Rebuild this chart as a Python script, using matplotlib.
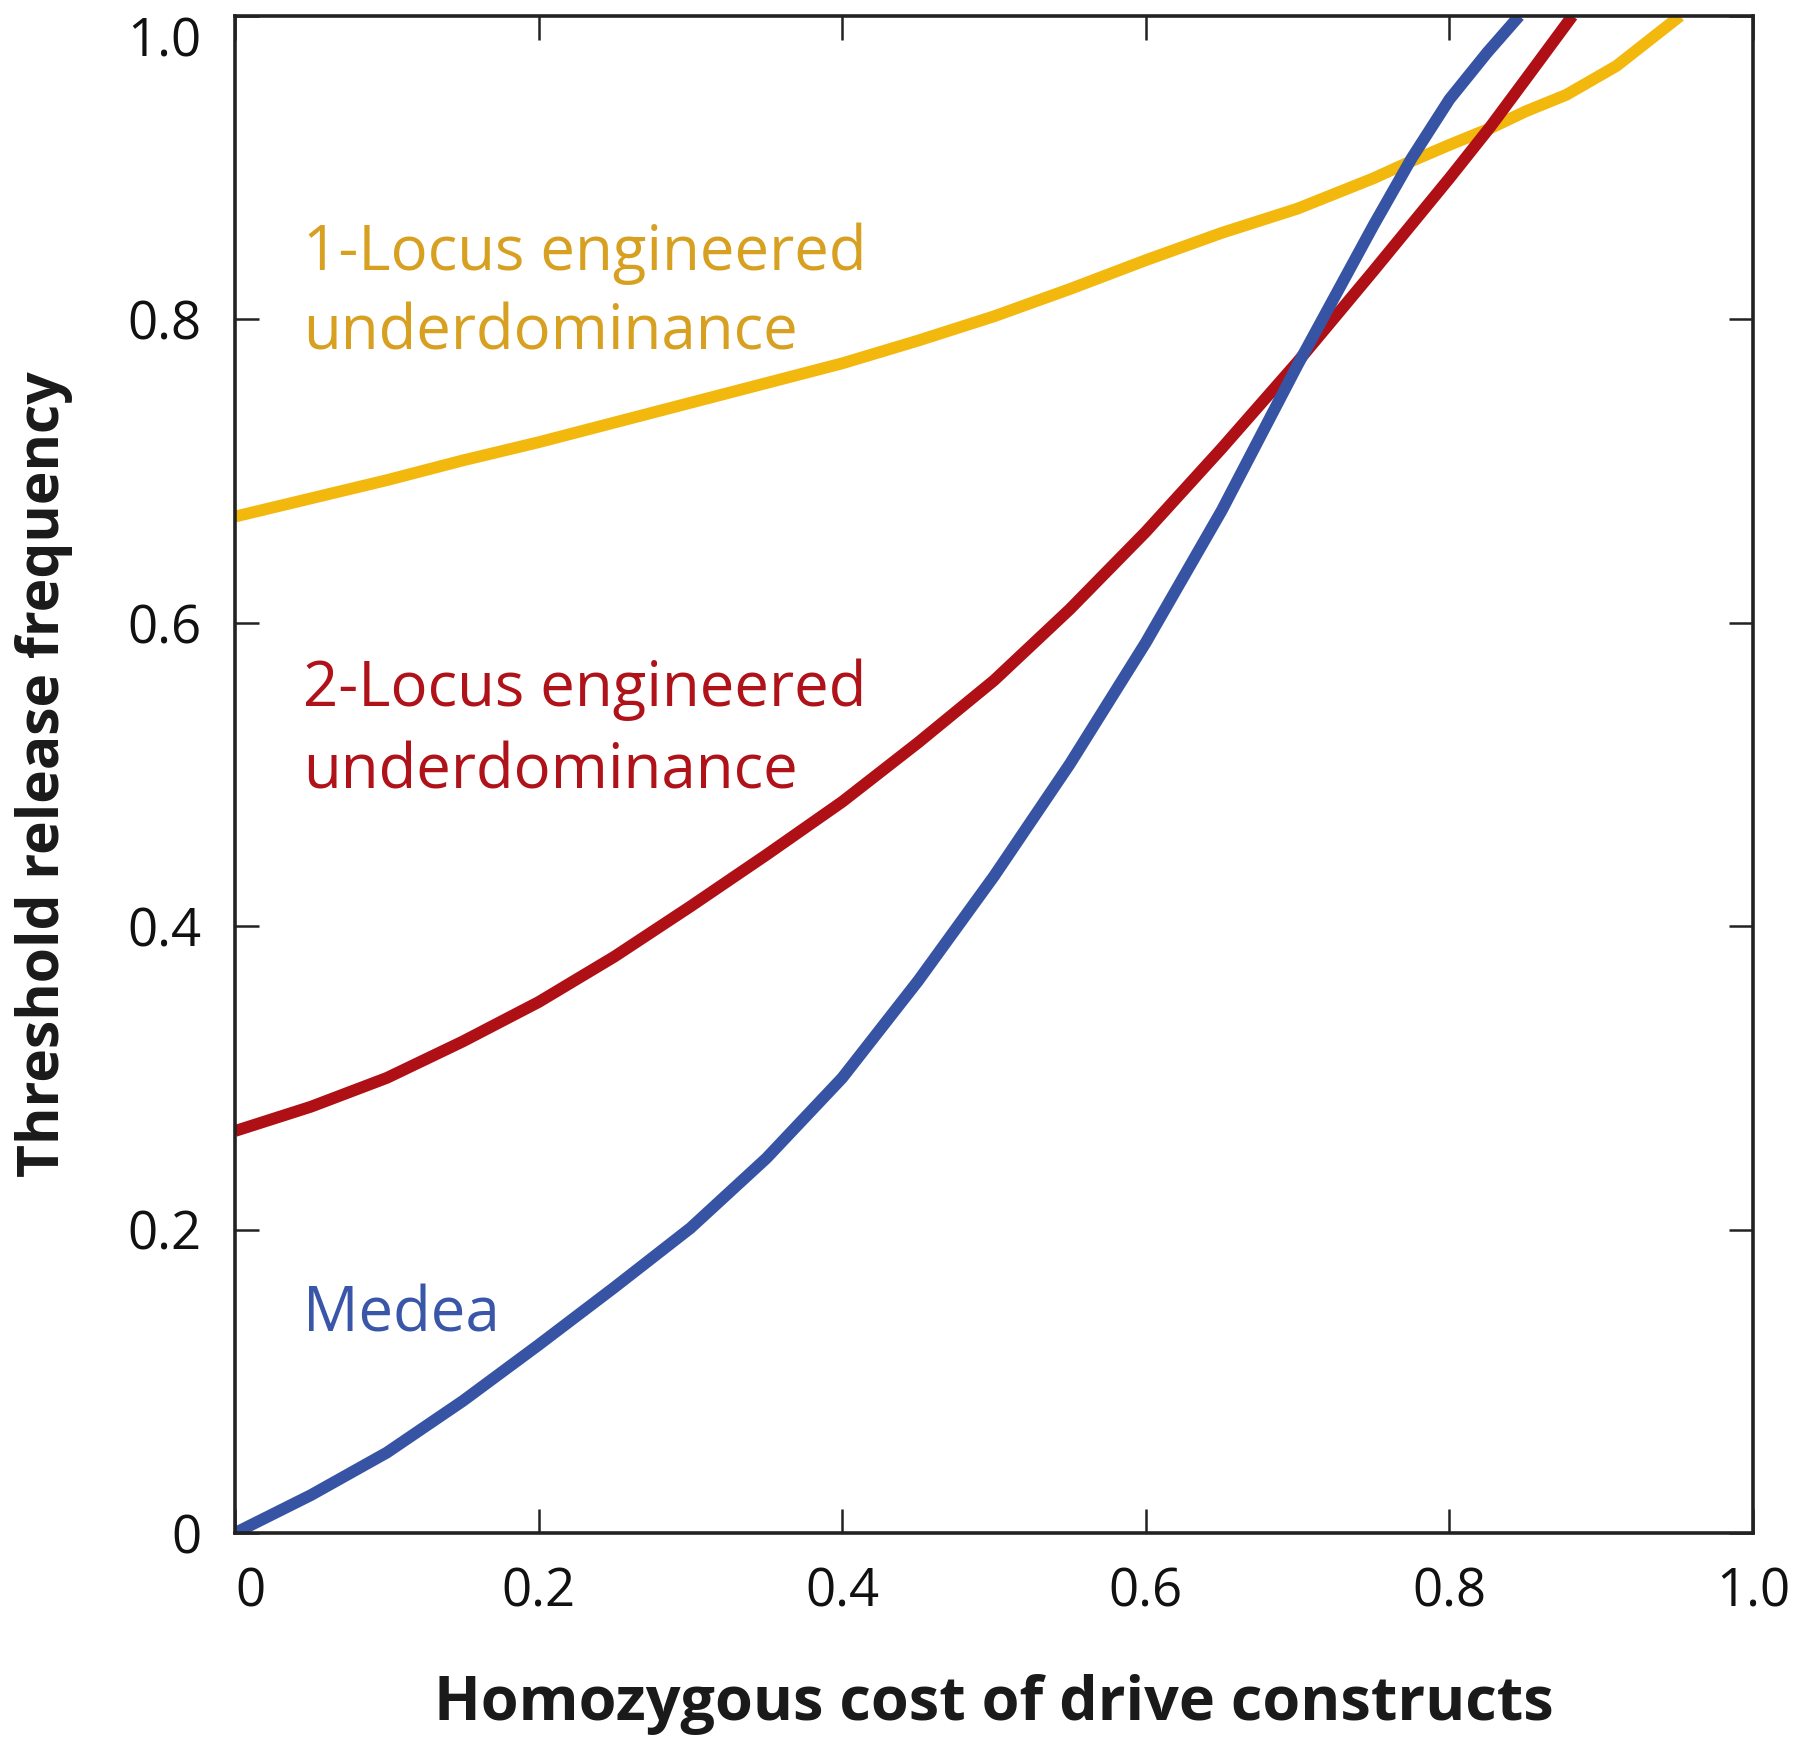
import matplotlib
matplotlib.use('Agg')
import matplotlib.pyplot as plt

plt.rcParams['font.family'] = ['Open Sans', 'DejaVu Sans']

# Homozygous cost of drive constructs vs. threshold release frequency
one_locus_x = [0, 0.05, 0.10, 0.15, 0.20, 0.25, 0.30, 0.35, 0.40, 0.45, 0.50,
               0.55, 0.60, 0.65, 0.70, 0.75, 0.772, 0.80, 0.827, 0.85, 0.877, 0.91, 0.952]
one_locus_y = [0.670, 0.682, 0.694, 0.707, 0.719, 0.732, 0.745, 0.758, 0.771, 0.786, 0.802,
               0.820, 0.839, 0.857, 0.873, 0.893, 0.903, 0.915, 0.926, 0.937, 0.948, 0.967, 1.0]

two_locus_x = [0, 0.05, 0.10, 0.15, 0.20, 0.25, 0.30, 0.35, 0.40, 0.45, 0.50,
               0.55, 0.60, 0.65, 0.70, 0.75, 0.80, 0.827, 0.85, 0.881]
two_locus_y = [0.265, 0.281, 0.300, 0.324, 0.350, 0.380, 0.413, 0.447, 0.482, 0.521, 0.562,
               0.609, 0.660, 0.715, 0.772, 0.832, 0.893, 0.927, 0.958, 1.0]

medea_x = [0, 0.05, 0.10, 0.15, 0.20, 0.25, 0.30, 0.35, 0.40, 0.45, 0.50,
           0.55, 0.60, 0.65, 0.70, 0.75, 0.775, 0.80, 0.825, 0.846]
medea_y = [0.0, 0.025, 0.053, 0.087, 0.124, 0.162, 0.201, 0.247, 0.300, 0.364, 0.433,
           0.507, 0.587, 0.674, 0.770, 0.862, 0.906, 0.945, 0.976, 1.0]

ticks = [0, 0.2, 0.4, 0.6, 0.8, 1.0]
tick_labels = ['0', '0.2', '0.4', '0.6', '0.8', '1.0']

YELLOW, YELLOW_TXT = '#F3B80E', '#D7A021'
RED, RED_TXT = '#AF1016', '#AF1219'
BLUE, BLUE_TXT = '#3753A4', '#3A56A8'

fig = plt.figure(figsize=(18, 17.51), dpi=100)
ax = fig.add_axes([0.1306, 0.1245, 0.8433, 0.8664])

lw = 8.5
for xs, ys, c in [(one_locus_x, one_locus_y, YELLOW),
                  (two_locus_x, two_locus_y, RED),
                  (medea_x, medea_y, BLUE)]:
    ax.plot(xs, ys, color=c, lw=lw, solid_capstyle='butt', solid_joinstyle='round')

ax.set_xlim(0, 1)
ax.set_ylim(0, 1)
ax.set_xticks(ticks)
ax.set_xticklabels(tick_labels)
ax.set_yticks(ticks)
ax.set_yticklabels(tick_labels)
ax.tick_params(direction='in', length=17, width=1.8, top=True, right=True,
               labelsize=38, color='#222222', labelcolor='#111111')
ax.tick_params(axis='x', pad=24)
ax.tick_params(axis='y', pad=24)
for s in ax.spines.values():
    s.set_linewidth(2.6)
    s.set_color('#222222')

# end labels pulled inside the frame like the original
ax.get_yticklabels()[-1].set_va('top')
ax.get_xticklabels()[0].set_ha('left')

ax.set_xlabel('Homozygous cost of drive constructs', fontsize=44, fontweight='bold',
              color='#1a1a1a', va='center')
ax.xaxis.set_label_coords(0.5, -0.113)
ax.set_ylabel('Threshold release frequency', fontsize=41, fontweight='bold',
              color='#1a1a1a', va='center')
ax.yaxis.set_label_coords(-0.126, 0.5)

fs = 44.5
ax.text(0.045, 0.8326, '1-Locus engineered', fontsize=fs, color=YELLOW_TXT, va='baseline')
ax.text(0.045, 0.780, 'underdominance', fontsize=fs, color=YELLOW_TXT, va='baseline')
ax.text(0.045, 0.545, '2-Locus engineered', fontsize=fs, color=RED_TXT, va='baseline')
ax.text(0.045, 0.491, 'underdominance', fontsize=fs, color=RED_TXT, va='baseline')
ax.text(0.045, 0.1325, 'Medea', fontsize=fs, color=BLUE_TXT, va='baseline')

fig.savefig('out.png', dpi=100)
